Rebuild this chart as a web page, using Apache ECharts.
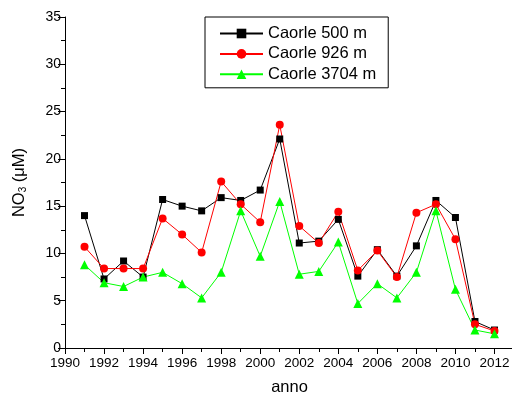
<!DOCTYPE html>
<html>
<head>
<meta charset="utf-8">
<script src="https://cdn.jsdelivr.net/npm/echarts@6/dist/echarts.min.js"></script>
<style>html,body{margin:0;padding:0;background:#fff;}#c{width:512px;height:396px;}</style>
</head>
<body>
<div id="c"></div>
<script>
const years = [1991,1992,1993,1994,1995,1996,1997,1998,1999,2000,2001,2002,2003,2004,2005,2006,2007,2008,2009,2010,2011,2012];
const caorle500 = [14.0,7.3,9.2,7.5,15.7,15.0,14.5,15.9,15.6,16.7,22.1,11.1,11.3,13.6,7.6,10.4,7.6,10.8,15.6,13.8,2.8,1.9];
const caorle926 = [10.7,8.4,8.4,8.4,13.7,12.0,10.1,17.6,15.2,13.3,23.6,12.9,11.1,14.4,8.2,10.3,7.5,14.3,15.2,11.5,2.5,1.8];
const caorle3704 = [8.8,6.9,6.5,7.5,8.0,6.8,5.3,8.0,14.5,9.7,15.5,7.8,8.1,11.2,4.7,6.8,5.3,8.0,14.5,6.2,1.9,1.5];
const seriesNames = ['Caorle 500 m','Caorle 926 m','Caorle 3704 m'];

const font = 'Liberation Sans, Arial, sans-serif';
const pair = arr => years.map((y,i)=>[y,arr[i]]);

const chart = echarts.init(document.getElementById('c'), null, {renderer:'canvas'});
chart.setOption({
  animation:false,
  textStyle:{fontFamily:font},
  grid:{left:65, right:-2, top:17, bottom:48, containLabel:false, outerBoundsMode:'none'},
  legend:{
    orient:'vertical', left:205, top:17,
    width:183,
    padding:[8,12,5,14],
    itemGap:3.4,
    itemWidth:43, itemHeight:12,
    borderColor:'#000', borderWidth:1, borderRadius:0,
    textStyle:{fontFamily:font, fontSize:16.5, color:'#000'},
    data:seriesNames
  },
  xAxis:{
    type:'value', min:1990, max:2013, interval:2,
    name:'anno', nameLocation:'middle', nameGap:31,
    nameTextStyle:{fontFamily:font, fontSize:16.5, color:'#000'},
    axisLine:{show:true, lineStyle:{color:'#000', width:1}},
    axisTick:{show:true, length:6, lineStyle:{color:'#000'}},
    minorTick:{show:true, splitNumber:2, length:4, lineStyle:{color:'#000'}},
    axisLabel:{fontFamily:font, fontSize:13.5, color:'#000', margin:8, showMaxLabel:false,
      formatter:v => (v===2013 ? '' : String(v))},
    splitLine:{show:false}, minorSplitLine:{show:false}
  },
  yAxis:{
    type:'value', min:0, max:35, interval:5,
    name:'{a|NO}{b|3}{a| (μM)}', nameLocation:'middle', nameGap:37, nameRotate:90,
    nameTextStyle:{fontFamily:font, fontSize:16, color:'#000',
      rich:{a:{fontFamily:font, fontSize:16.5, color:'#000'}, b:{fontFamily:font, fontSize:10, color:'#000', verticalAlign:'bottom', padding:[6,0,0,0]}}},
    axisLine:{show:true, lineStyle:{color:'#000', width:1}},
    axisTick:{show:true, length:7, lineStyle:{color:'#000'}},
    minorTick:{show:true, splitNumber:2, length:4, lineStyle:{color:'#000'}},
    axisLabel:{fontFamily:font, fontSize:14, color:'#000', margin:4},
    splitLine:{show:false}, minorSplitLine:{show:false}
  },
  series:[
    {name:seriesNames[0], type:'line', data:pair(caorle500), symbol:'rect', symbolSize:7,
     itemStyle:{color:'#000'}, lineStyle:{color:'#000', width:1}},
    {name:seriesNames[1], type:'line', data:pair(caorle926), symbol:'circle', symbolSize:8,
     itemStyle:{color:'#ff0000'}, lineStyle:{color:'#ff0000', width:1}},
    {name:seriesNames[2], type:'line', data:pair(caorle3704), symbol:'triangle', symbolSize:9,
     itemStyle:{color:'#00ff00'}, lineStyle:{color:'#00ff00', width:1}}
  ]
});
</script>
</body>
</html>
